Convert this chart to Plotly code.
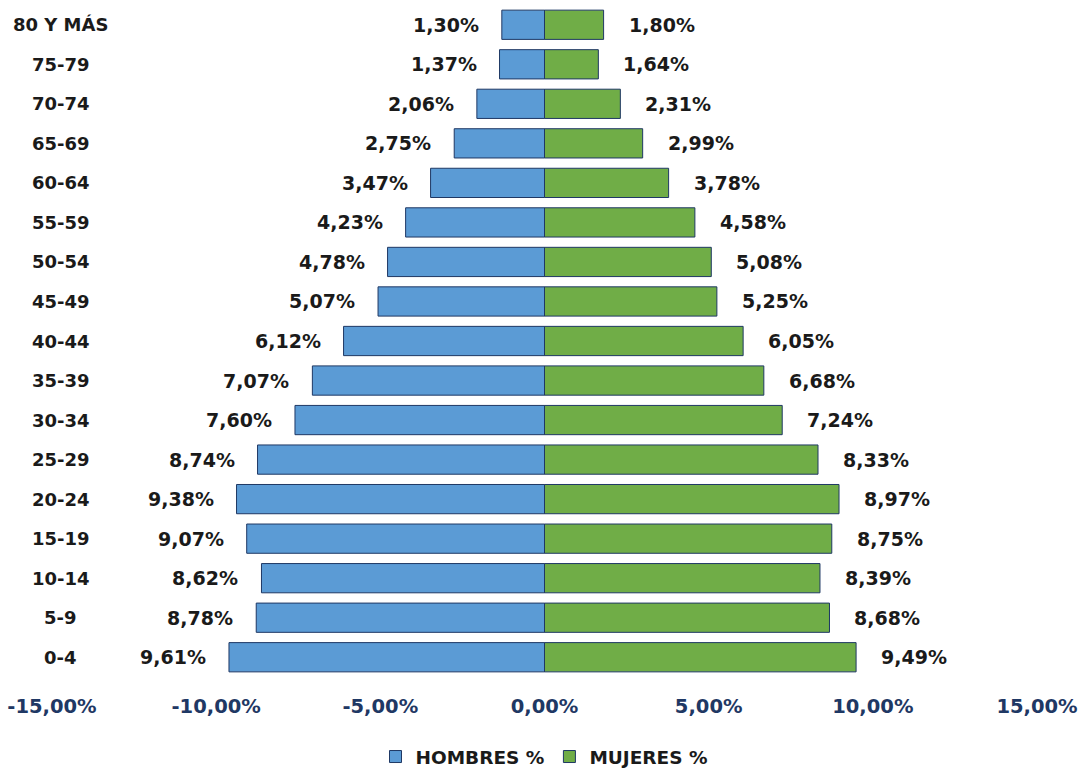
import plotly.graph_objects as go

categories = ["0-4", "5-9", "10-14", "15-19", "20-24", "25-29", "30-34", "35-39",
              "40-44", "45-49", "50-54", "55-59", "60-64", "65-69", "70-74",
              "75-79", "80 Y MÁS"]
hombres = [9.61, 8.78, 8.62, 9.07, 9.38, 8.74, 7.60, 7.07, 6.12, 5.07, 4.78,
           4.23, 3.47, 2.75, 2.06, 1.37, 1.30]
mujeres = [9.49, 8.68, 8.39, 8.75, 8.97, 8.33, 7.24, 6.68, 6.05, 5.25, 5.08,
           4.58, 3.78, 2.99, 2.31, 1.64, 1.80]
tick_values = [-15, -10, -5, 0, 5, 10, 15]


def fmt(v):
    return f"{v:.2f}".replace(".", ",") + "%"


FONT = "DejaVu Sans"
BLUE = "#5B9BD5"
GREEN = "#70AD47"
EDGE = "#1F3864"
NAVY = "#1F3864"
TXT = "#1a1a1a"

fig = go.Figure()
fig.add_trace(go.Bar(
    name="HOMBRES %", y=categories, x=[-v for v in hombres], orientation="h",
    marker=dict(color=BLUE, line=dict(color=EDGE, width=1)), hoverinfo="skip",
))
fig.add_trace(go.Bar(
    name="MUJERES %", y=categories, x=mujeres, orientation="h",
    marker=dict(color=GREEN, line=dict(color=EDGE, width=1)), hoverinfo="skip",
))

annotations = []
for c, m, w in zip(categories, hombres, mujeres):
    annotations.append(dict(x=-m, y=c, xref="x", yref="y", text=fmt(m),
                            showarrow=False, xanchor="right", xshift=-21,
                            font=dict(family=FONT, size=19, color=TXT, weight="bold")))
    annotations.append(dict(x=w, y=c, xref="x", yref="y", text=fmt(w),
                            showarrow=False, xanchor="left", xshift=23,
                            font=dict(family=FONT, size=19, color=TXT, weight="bold")))
    annotations.append(dict(x=0.009, y=c, xref="paper", yref="y", text=c,
                            showarrow=False, xanchor="center",
                            font=dict(family=FONT, size=18, color=TXT, weight="bold")))

fig.update_layout(
    width=1083, height=771,
    margin=dict(l=52, r=46, t=5, b=94, autoexpand=False),
    paper_bgcolor="white", plot_bgcolor="white",
    barmode="relative", bargap=0.26,
    annotations=annotations,
    showlegend=True,
    legend=dict(orientation="h", x=0.5, xanchor="center",
                yref="container", y=1 - 757 / 771, yanchor="middle",
                itemwidth=30, traceorder="normal",
                font=dict(family=FONT, size=18.5, color=TXT, weight="bold")),
    xaxis=dict(range=[-15, 15], tickvals=tick_values, ticktext=[fmt(v) for v in tick_values],
               showgrid=False, zeroline=False, showline=False, ticks="",
               ticklabelstandoff=15, automargin=False,
               tickfont=dict(family=FONT, size=19.5, color=NAVY, weight="bold"),
               fixedrange=True),
    yaxis=dict(type="category", categoryorder="array", categoryarray=categories,
               showticklabels=False, showgrid=False, zeroline=False, showline=False,
               ticks="", fixedrange=True, automargin=False),
)

fig.write_html("out.html", config={"displayModeBar": False},
               post_script="document.body.style.margin='0';")
